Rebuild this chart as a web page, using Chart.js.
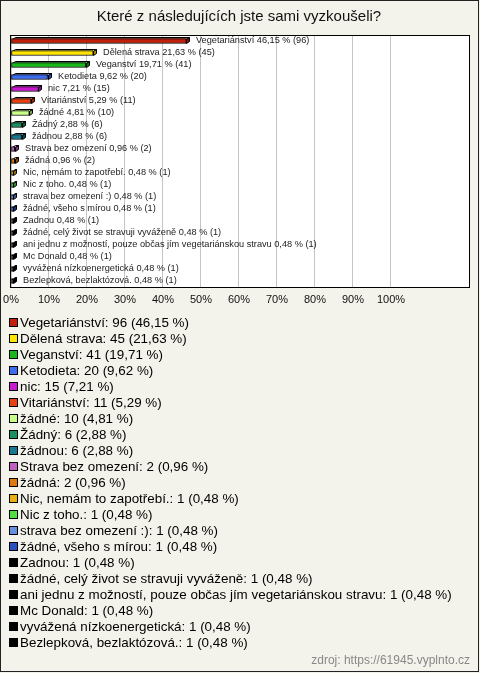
<!DOCTYPE html>
<html>
<head>
<meta charset="utf-8">
<script src="https://cdn.jsdelivr.net/npm/chart.js@4"></script>
<style>
  html, body { margin: 0; padding: 0; background: #fff; }
  #wrap { width: 480px; height: 673px; position: relative; }
</style>
</head>
<body>
<div id="wrap"><canvas id="c" width="480" height="673"></canvas></div>
<script>
// ── data ──
const TITLE = 'Které z následujících jste sami vyzkoušeli?';
const SOURCE = 'zdroj: https://61945.vyplnto.cz';

const categories = [
  'Vegetariánství', 'Dělená strava', 'Veganství', 'Ketodieta', 'nic',
  'Vitariánství', 'žádné', 'Žádný', 'žádnou', 'Strava bez omezení',
  'žádná', 'Nic, nemám to zapotřebí.', 'Nic z toho.', 'strava bez omezení :)',
  'žádné, všeho s mírou', 'Zadnou', 'žádné, celý život se stravuji vyváženě',
  'ani jednu z možností, pouze občas jím vegetariánskou stravu', 'Mc Donald',
  'vyvážená nízkoenergetická', 'Bezlepková, bezlaktózová.'
];
const counts = [96, 45, 41, 20, 15, 11, 10, 6, 6, 2, 2, 1, 1, 1, 1, 1, 1, 1, 1, 1, 1];
const percents = [46.15, 21.63, 19.71, 9.62, 7.21, 5.29, 4.81, 2.88, 2.88, 0.96, 0.96,
  0.48, 0.48, 0.48, 0.48, 0.48, 0.48, 0.48, 0.48, 0.48, 0.48];
const colors = [
  '#c0200c', '#ffe400', '#18b818', '#3c6cf0', '#c818d0', '#e84010', '#c8ff88',
  '#189060', '#187890', '#c060c0', '#e07810', '#e8b010', '#50e040', '#6890e0',
  '#2850c0', '#000000', '#000000', '#000000', '#000000', '#000000', '#000000'
];
const xTicksMax = 100;

const FONT = "'Liberation Sans', Arial, sans-serif";
const BG = '#f4f3eb';
const DEPTH = 3;

const fmtPct = v => v.toFixed(2).replace('.', ',');

function shade(hex, f) {
  const n = parseInt(hex.slice(1), 16);
  let r = (n >> 16) & 255, g = (n >> 8) & 255, b = n & 255;
  const m = c => Math.max(0, Math.min(255, Math.round(f > 0 ? c + (255 - c) * f : c * (1 + f))));
  return `rgb(${m(r)},${m(g)},${m(b)})`;
}

// ── Plugin: background, frame, title, source ──
const framePlugin = {
  id: 'frame',
  beforeDraw(chart) {
    const ctx = chart.ctx, a = chart.chartArea;
    ctx.save();
    ctx.fillStyle = BG;
    ctx.fillRect(0, 0, 480, 673);
    ctx.strokeStyle = '#222';
    ctx.lineWidth = 1;
    ctx.strokeRect(0.5, 0.5, 478, 671);
    ctx.fillStyle = '#fff';
    ctx.fillRect(a.left - 1, a.top, a.right - a.left + 1, a.bottom - a.top);
    ctx.fillStyle = '#111';
    ctx.font = `15px ${FONT}`;
    ctx.textAlign = 'center';
    ctx.textBaseline = 'middle';
    ctx.fillText(TITLE, 239, 17);
    ctx.fillStyle = '#888';
    ctx.font = `12px ${FONT}`;
    ctx.textAlign = 'right';
    ctx.fillText(SOURCE, 470, 661);
    ctx.restore();
  },
  afterDraw(chart) {
    const ctx = chart.ctx, a = chart.chartArea;
    ctx.save();
    ctx.strokeStyle = '#000';
    ctx.lineWidth = 1;
    ctx.strokeRect(a.left - 0.5, a.top + 0.5, a.right - a.left, a.bottom - a.top);
    ctx.restore();
  }
};

// ── Plugin: 3D prism behind each bar + value labels ──
const bar3dPlugin = {
  id: 'bar3d',
  beforeDatasetsDraw(chart) {
    const ctx = chart.ctx;
    const meta = chart.getDatasetMeta(0);
    ctx.save();
    ctx.lineWidth = 1;
    ctx.strokeStyle = '#000';
    meta.data.forEach((el, i) => {
      const { x, y, base, height } = el.getProps(['x', 'y', 'base', 'height'], true);
      const x0 = Math.round(base) + 0.5, x1 = Math.round(x) + 0.5;
      const yT = Math.round(y - height / 2) + 0.5, yB = Math.round(y + height / 2) - 0.5;
      const c = colors[i];
      // top face
      ctx.fillStyle = c === '#000000' ? '#000' : shade(c, 0.35);
      ctx.beginPath();
      ctx.moveTo(x0, yT);
      ctx.lineTo(x0 + DEPTH, yT - DEPTH + 1);
      ctx.lineTo(x1 + DEPTH, yT - DEPTH + 1);
      ctx.lineTo(x1, yT);
      ctx.closePath();
      ctx.fill();
      ctx.stroke();
      // side face
      ctx.fillStyle = c === '#000000' ? '#000' : shade(c, -0.35);
      ctx.beginPath();
      ctx.moveTo(x1, yT);
      ctx.lineTo(x1 + DEPTH, yT - DEPTH + 1);
      ctx.lineTo(x1 + DEPTH, yB - DEPTH + 1);
      ctx.lineTo(x1, yB);
      ctx.closePath();
      ctx.fill();
      ctx.stroke();
    });
    ctx.restore();
  },
  afterDatasetsDraw(chart) {
    const ctx = chart.ctx;
    const meta = chart.getDatasetMeta(0);
    ctx.save();
    ctx.font = `9.2px ${FONT}`;
    ctx.fillStyle = '#222';
    ctx.textAlign = 'left';
    ctx.textBaseline = 'middle';
    meta.data.forEach((el, i) => {
      const text = `${categories[i]} ${fmtPct(percents[i])} % (${counts[i]})`;
      ctx.fillText(text, Math.round(el.x) + DEPTH + 7, el.y - 1);
    });
    ctx.restore();
  }
};

// ── Plugin: legend list under the chart ──
const legendListPlugin = {
  id: 'legendList',
  afterDraw(chart) {
    const ctx = chart.ctx;
    ctx.save();
    ctx.font = `13.4px ${FONT}`;
    ctx.textAlign = 'left';
    ctx.textBaseline = 'middle';
    categories.forEach((cat, i) => {
      const y = 322 + i * 16;
      ctx.fillStyle = colors[i];
      ctx.fillRect(9, y - 4, 9, 9);
      ctx.strokeStyle = '#000';
      ctx.lineWidth = 1;
      ctx.strokeRect(9.5, y - 3.5, 8, 8);
      ctx.fillStyle = '#000';
      ctx.fillText(`${cat}: ${counts[i]} (${fmtPct(percents[i])} %)`, 20, y + 1);
    });
    ctx.restore();
  }
};

new Chart(document.getElementById('c'), {
  type: 'bar',
  data: {
    labels: categories,
    datasets: [{
      data: percents,
      backgroundColor: colors,
      borderColor: '#000',
      borderWidth: 1,
      borderSkipped: false,
      barThickness: 5,
    }]
  },
  plugins: [framePlugin, bar3dPlugin, legendListPlugin],
  options: {
    indexAxis: 'y',
    responsive: false,
    animation: false,
    devicePixelRatio: 1,
    layout: { padding: { left: 11, right: 10, top: 35, bottom: 366 } },
    plugins: {
      legend: { display: false },
      tooltip: { enabled: false },
      title: { display: false },
    },
    scales: {
      y: { display: false, grid: { display: false } },
      x: {
        min: 0,
        max: 120.8,
        afterFit: s => { s.height = 20; s.paddingLeft = 0; s.paddingRight = 0; },
        border: { display: false },
        grid: {
          drawTicks: false,
          color: c => (c.tick && c.tick.value <= xTicksMax ? '#c4c4c4' : 'rgba(0,0,0,0)'),
        },
        ticks: {
          stepSize: 10,
          padding: 6,
          maxRotation: 0,
          autoSkip: false,
          color: '#111',
          font: { family: FONT, size: 11 },
          callback: v => (v <= xTicksMax ? v + '%' : ''),
        },
      },
    },
  },
});
</script>
</body>
</html>
